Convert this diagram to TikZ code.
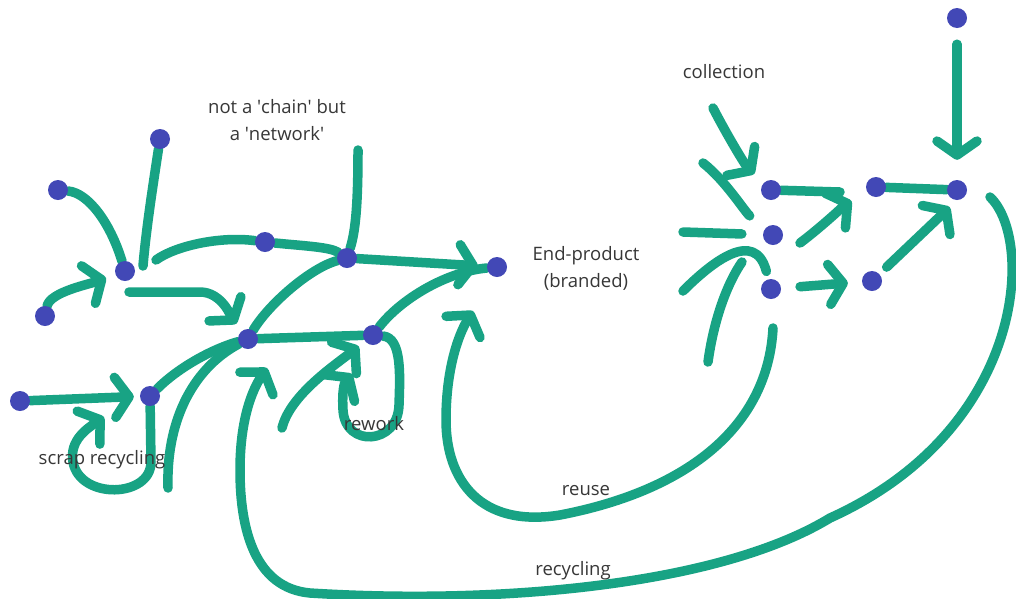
\documentclass[tikz,border=0pt]{standalone}
\usepackage{fontspec}
\setmainfont{Open Sans}
\usetikzlibrary{arrows.meta,backgrounds,calc}
\definecolor{strokegreen}{RGB}{24,163,132}
\definecolor{dotblue}{RGB}{66,72,182}
\definecolor{ink}{RGB}{55,55,55}

\begin{document}
\begin{tikzpicture}[x=1pt,y=-1pt,
  dot/.style={circle,fill=dotblue,minimum size=20pt,inner sep=0pt},
  flow/.style={draw=strokegreen,line width=9.5pt,line cap=round,line join=round},
  arrowed/.style={-{Straight Barb[length=14pt,width=40pt,round]}},
  lbl/.style={text=ink,font=\fontsize{18.5}{27}\selectfont,anchor=base,inner sep=0pt}]

\useasboundingbox (0,0) rectangle (1016,598);

% dots
\node[dot] (A) at (58,190) {};
\node[dot] (B) at (160,139) {};
\node[dot] (C) at (125,271) {};
\node[dot] (D) at (45,316) {};
\node[dot] (E) at (265,242) {};
\node[dot] (F) at (347,258) {};
\node[dot] (G) at (248,339) {};
\node[dot] (H) at (373,335) {};
\node[dot] (I) at (497,267) {};
\node[dot] (J) at (20,401) {};
\node[dot] (K) at (150,396) {};
\node[dot] (L) at (771,190) {};
\node[dot] (M) at (773,235) {};
\node[dot] (N) at (771,289) {};
\node[dot] (O) at (876,187) {};
\node[dot] (P) at (872,281) {};
\node[dot] (Q) at (957,190) {};
\node[dot] (R) at (957,18) {};

% loose stroke ends
\coordinate (b1) at (143,266);
\coordinate (e0) at (156,260);
\coordinate (c1) at (129,292);
\coordinate (g1) at (168,488);
\coordinate (s9) at (104,417);
\coordinate (r0) at (990,197);
\coordinate (r9) at (267,368);
\coordinate (h0) at (282,428);
\coordinate (w9) at (352,374);
\coordinate (f0) at (358,150);
\coordinate (u0) at (773,328);
\coordinate (u9) at (473,311);
\coordinate (c10) at (713,108);
\coordinate (c20) at (703,163);
\coordinate (c30) at (683,232);
\coordinate (c40) at (683,291);
\coordinate (c50) at (708,362);
\coordinate (c51) at (742,262);
\coordinate (m1) at (800,243);
\coordinate (o1) at (840,192);

\begin{scope}[on background layer]
\fill[white] (0,0) rectangle (1016,598);

% left cluster
\draw[flow] (A) .. controls (88,193) and (110,222) .. (C);
\draw[flow,arrowed,shorten >=10pt] (D) .. controls (50,292) and (90,284) .. (C);
\draw[flow] (B) .. controls (153,185) and (146,230) .. (b1);
\draw[flow] (e0) .. controls (175,246) and (220,236) .. (E)
  .. controls (305,246) and (330,247) .. (F);
\draw[flow,arrowed,shorten >=9pt] (c1) -- (200,292)
  .. controls (222,292) and (232,318) .. (G);
\draw[flow,arrowed,shorten >=6pt] (J) -- (K);
\draw[flow,arrowed] (K) -- (151,462) .. controls (151,498) and (80,500) .. (73,462)
  .. controls (69,440) and (88,428) .. (s9);
\draw[flow] (K) .. controls (180,366) and (215,348) .. (G);
\draw[flow] (g1) .. controls (166,425) and (190,370) .. (G);

% middle
\draw[flow] (G) -- (H);
\draw[flow,arrowed,shorten >=8pt] (h0) .. controls (290,395) and (335,365) .. (H);
\draw[flow,arrowed] (H) .. controls (402,338) and (400,375) .. (399,405)
  .. controls (398,445) and (345,448) .. (343,410)
  .. controls (342,392) and (344,383) .. (w9);
\draw[flow] (G) .. controls (268,305) and (310,268) .. (F);
\draw[flow] (f0) .. controls (358,200) and (356,230) .. (F);
\draw[flow,arrowed,shorten >=9pt] (F) -- (I);
\draw[flow] (H) .. controls (400,300) and (445,272) .. (I);

% reuse loop
\draw[flow,arrowed] (u0) .. controls (768,425) and (690,490) .. (560,515)
  .. controls (480,528) and (446,480) .. (446,420)
  .. controls (446,370) and (458,335) .. (u9);

% recycling loop
\draw[flow,arrowed] (r0) .. controls (1035,240) and (1025,430) .. (830,518)
  .. controls (720,585) and (500,605) .. (310,593)
  .. controls (255,588) and (240,530) .. (240,470)
  .. controls (240,420) and (252,390) .. (r9);

% right cluster
\draw[flow,arrowed,shorten >=13pt] (c10) .. controls (727,135) and (745,165) .. (L);
\draw[flow,shorten >=20pt] (c20) .. controls (725,180) and (745,212) .. (M);
\draw[flow,shorten >=21pt] (c30) -- (M);
\draw[flow,shorten >=8pt] (c40) .. controls (712,262) and (755,228) .. (N);
\draw[flow] (c50) .. controls (714,318) and (728,282) .. (c51);
\draw[flow] (L) -- (o1);
\draw[flow,arrowed,shorten >=18pt] (m1) .. controls (820,228) and (845,205) .. (O);
\draw[flow] (O) -- (Q);
\draw[flow,arrowed,shorten <=16pt,shorten >=20pt] (R) -- (Q);
\draw[flow,arrowed,shorten <=19pt,shorten >=14pt] (N) -- (P);
\draw[flow,arrowed,shorten <=10pt,shorten >=10pt] (P) -- (Q.south);
\end{scope}

% labels
\node[lbl] (t1) at (277,113) {not a \textquotesingle chain\textquotesingle{} but};
\node[lbl] (t2) at (277,140) {a \textquotesingle network\textquotesingle};
\node[lbl] (t3) at (724,78) {collection};
\node[lbl] (t4) at (586,260) {End-product};
\node[lbl] (t5) at (586,287) {(branded)};
\node[lbl] (t6) at (374,430) {rework};
\node[lbl] (t7) at (102,464) {scrap recycling};
\node[lbl] (t8) at (586,495) {reuse};
\node[lbl] (t9) at (573,575) {recycling};
\end{tikzpicture}
\end{document}
